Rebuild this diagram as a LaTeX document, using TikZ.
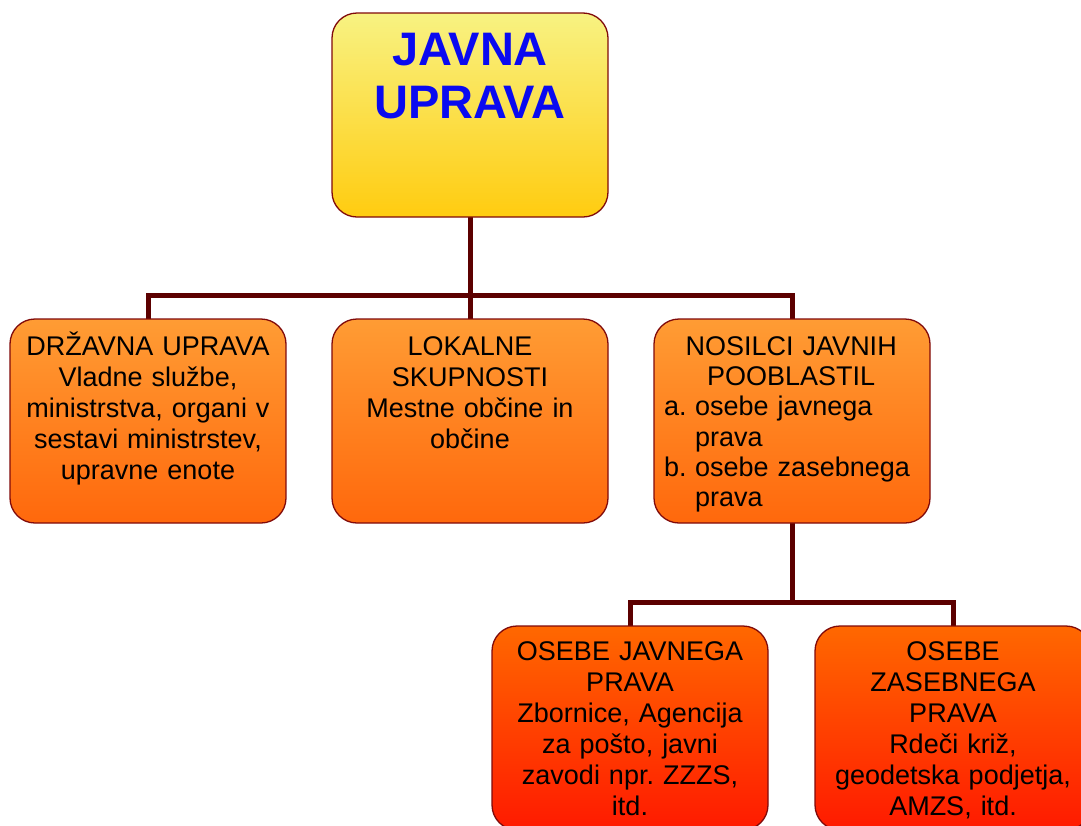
\documentclass[tikz,border=0pt]{standalone}
\usepackage{fontspec}
\setmainfont{Liberation Sans}
\usetikzlibrary{backgrounds}
\frenchspacing
\definecolor{conncol}{RGB}{92,0,0}
\definecolor{edgecol}{RGB}{128,10,10}
\definecolor{titleblue}{RGB}{10,10,240}
\definecolor{yTop}{RGB}{248,242,130}
\definecolor{yBot}{RGB}{255,204,16}
\definecolor{oTop}{RGB}{255,156,52}
\definecolor{oBot}{RGB}{255,104,12}
\definecolor{rTop}{RGB}{255,104,0}
\definecolor{rBot}{RGB}{255,26,0}
\newcommand\fl{\rule{0pt}{25pt}}
\tikzset{
  boxbase/.style={draw=edgecol, line width=1.3pt, rounded corners=25pt,
    minimum width=276pt, minimum height=204pt, inner sep=0pt, outer sep=0pt},
  topbox/.style={boxbase, top color=yTop, bottom color=yBot},
  midbox/.style={boxbase, top color=oTop, bottom color=oBot},
  lowbox/.style={boxbase, top color=rTop, bottom color=rBot},
  boxtext/.style={anchor=north, inner sep=0pt, text width=272pt, align=center,
    font=\fontsize{27}{31}\selectfont\frenchspacing},
  conn/.style={draw=conncol, line width=5pt, line join=miter},
}
\begin{document}
\begin{tikzpicture}[x=1pt,y=-1pt]
\useasboundingbox (0,0) rectangle (1081,825);
\clip (0,0) rectangle (1081,825);
% boxes
\node[topbox] (top) at (470,115) {};
\node[midbox] (b1) at (148,421) {};
\node[midbox] (b2) at (470,421) {};
\node[midbox] (b3) at (792,421) {};
\node[lowbox] (c1) at (630,728) {};
\node[lowbox] (c2) at (953,728) {};
% texts
\node[anchor=north, inner sep=0pt, align=center, text=titleblue,
  font=\fontsize{47}{53}\selectfont\bfseries] (ttop) at (470,21)
  {\rule{0pt}{44pt}JAVNA\\UPRAVA};
\node[boxtext] (t1) at (148,330)
  {\fl DRŽAVNA UPRAVA\\Vladne službe,\\ministrstva, organi v\\sestavi ministrstev,\\upravne enote};
\node[boxtext] (t2) at (470,330)
  {\fl LOKALNE\\SKUPNOSTI\\Mestne občine in\\občine};
\node[anchor=north west, inner sep=0pt, text width=254pt, align=left,
  font=\fontsize{27}{30.3}\selectfont\frenchspacing] (t3) at (664,330)
  {\makebox[\linewidth]{\fl NOSILCI JAVNIH}\\
   \makebox[\linewidth]{POOBLASTIL}\\
   \makebox[31pt][l]{a.}osebe javnega\\
   \hspace*{31pt}prava\\
   \makebox[31pt][l]{b.}osebe zasebnega\\
   \hspace*{31pt}prava};
\node[boxtext] (t4) at (630,635)
  {\fl OSEBE JAVNEGA\\PRAVA\\Zbornice, Agencija\\za pošto, javni\\zavodi npr. ZZZS,\\itd.};
\node[boxtext] (t5) at (953,635)
  {\fl OSEBE\\ZASEBNEGA\\PRAVA\\Rdeči križ,\\geodetska podjetja,\\AMZS, itd.};
% connectors
\coordinate (bus1) at (470,295);
\coordinate (bus2) at (792,602);
\begin{scope}[on background layer]
\fill[white] (0,0) rectangle (1081,825);
\draw[conn] (top.south) -- (b2.north);
\draw[conn] (b1.north) |- (bus1) -| (b3.north);
\draw[conn] (b3.south) -- (bus2);
\draw[conn] (c1.north) |- (bus2) -| (c2.north);
\end{scope}
\end{tikzpicture}
\end{document}
